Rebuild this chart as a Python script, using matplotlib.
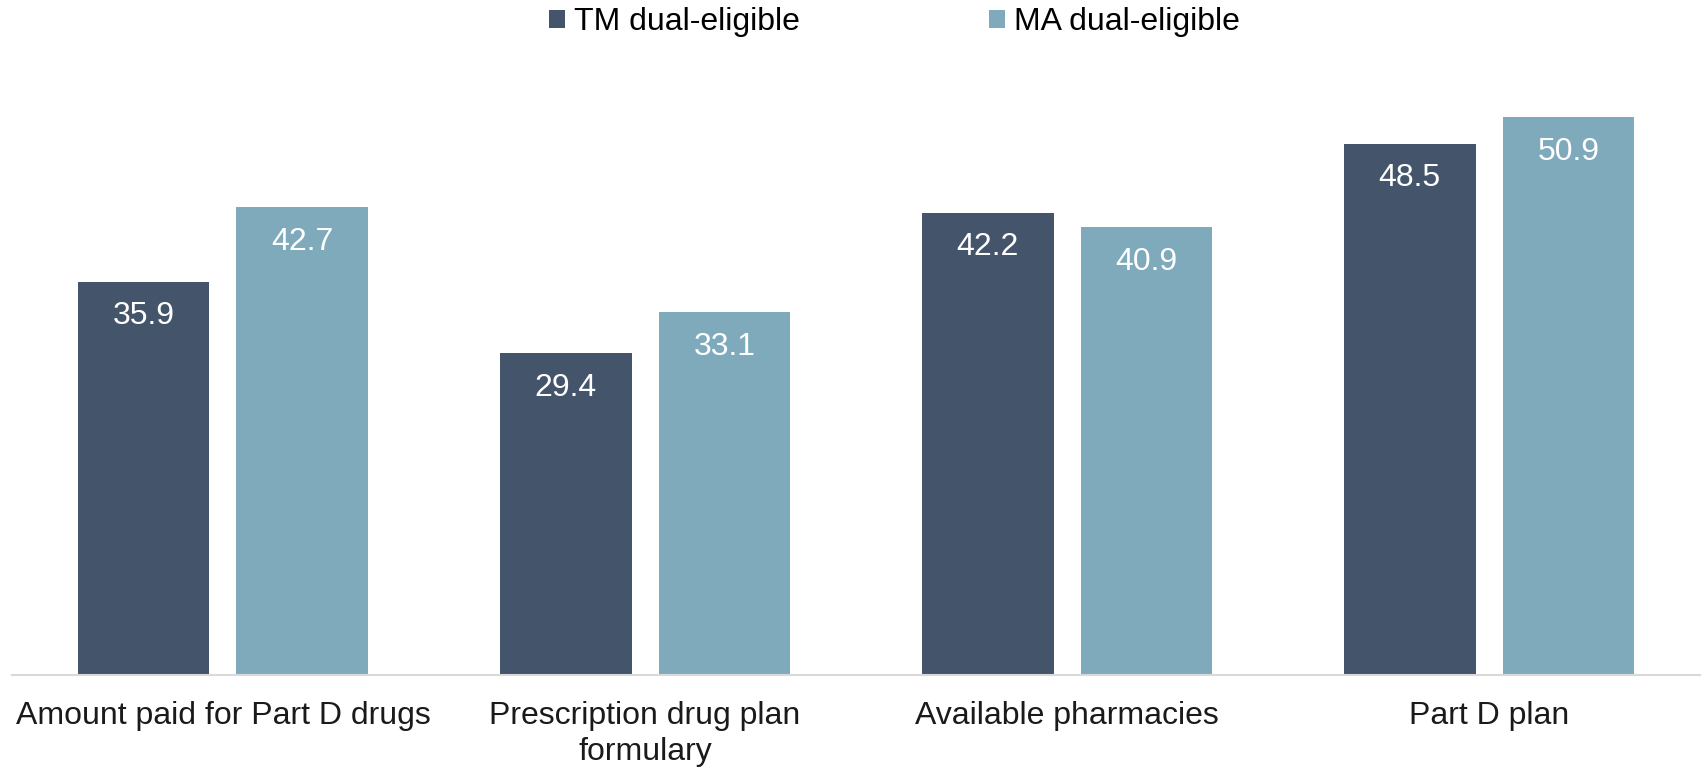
import numpy as np
import matplotlib.pyplot as plt

plt.rcParams['font.family'] = ['Liberation Sans', 'DejaVu Sans']

categories = ['Amount paid for Part D drugs', 'Prescription drug plan\nformulary',
              'Available pharmacies', 'Part D plan']
tm_dual = [35.9, 29.4, 42.2, 48.5]
ma_dual = [42.7, 33.1, 40.9, 50.9]

tm_color = '#44546a'
ma_color = '#7faabc'

fig = plt.figure(figsize=(17.07, 7.68), dpi=100)
ax = fig.add_axes([0.007, 0.121, 0.989, 0.856])

x = np.arange(len(categories))
w = 0.312
off = 0.188
b1 = ax.bar(x - off, tm_dual, w, color=tm_color, label='TM dual-eligible')
b2 = ax.bar(x + off, ma_dual, w, color=ma_color, label='MA dual-eligible')

# value labels sit inside the top of each bar
for bars in (b1, b2):
    for rect in bars:
        h = rect.get_height()
        ax.annotate(f'{h:.1f}', (rect.get_x() + rect.get_width() / 2, h),
                    xytext=(0, -25), textcoords='offset points',
                    ha='center', va='center', color='white', fontsize=23)

ax.set_xlim(-0.5, 3.5)
ax.set_ylim(0, 60)
ax.set_xticks(x)
ax.set_xticklabels(categories, fontsize=23, linespacing=1.22)
ax.tick_params(axis='x', length=0, pad=19, colors='#1a1a1a')
ax.set_yticks([])
for s in ('top', 'right', 'left'):
    ax.spines[s].set_visible(False)
ax.spines['bottom'].set_color('#d9d9d9')
ax.spines['bottom'].set_linewidth(1.5)

fig.legend(loc='center', bbox_to_anchor=(0.524, 0.971), ncol=2, frameon=False,
           fontsize=23, handlelength=0.5, handleheight=0.5, handletextpad=0.3,
           columnspacing=5.9)

fig.savefig('out.png', dpi=100)
